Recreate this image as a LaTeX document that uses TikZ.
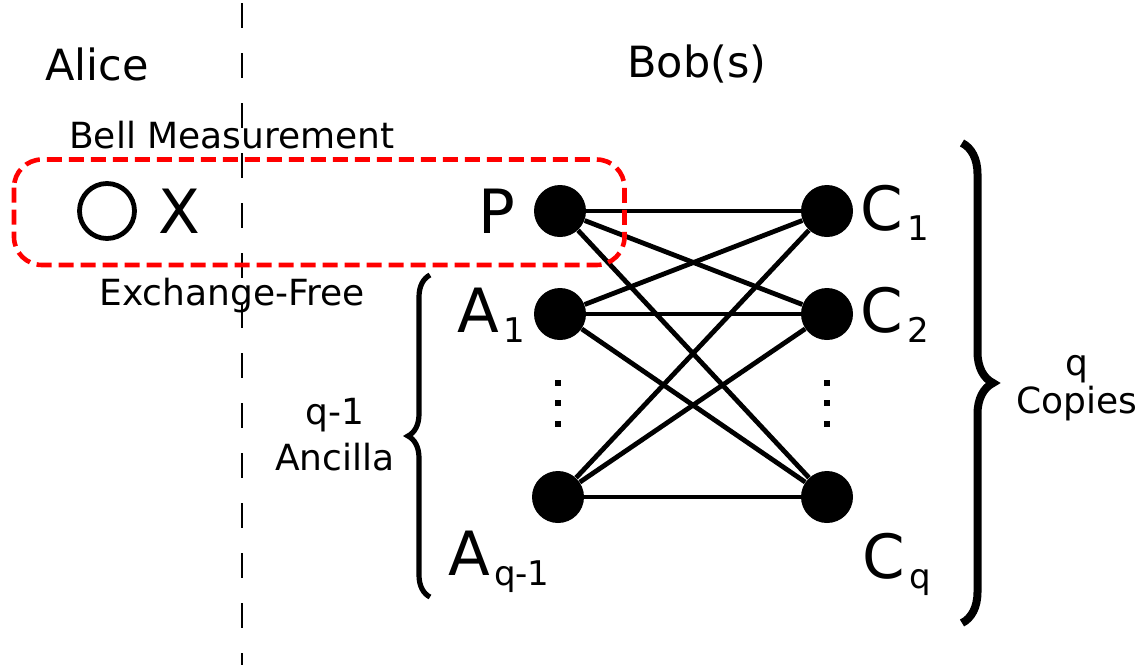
\documentclass[tikz,border=0pt]{standalone}
\usepackage{fontspec}
\setmainfont{DejaVu Sans}
\usetikzlibrary{decorations.pathreplacing}

\newcommand{\qlabel}[2]{#1\hspace{2pt}\raisebox{-5pt}{\fontsize{17}{17}\selectfont #2}}

\begin{document}
\begin{tikzpicture}[x=0.5pt,y=-0.5pt,
	qubit/.style={circle,fill=black,inner sep=0pt,minimum size=26pt},
	hollowqubit/.style={circle,draw=black,line width=2.4pt,inner sep=0pt,minimum size=27.5pt},
	link/.style={line width=2.4pt},
	dotsq/.style={rectangle,fill=black,inner sep=0pt,minimum size=3.3pt},
	biglabel/.style={inner sep=0pt,font=\fontsize{30.5}{30.5}\selectfont},
	partylabel/.style={inner sep=0pt,font=\fontsize{21.5}{21.5}\selectfont},
	notelabel/.style={inner sep=0pt,font=\fontsize{18}{23}\selectfont,align=center},
	bellbox/.style={draw=red,line width=2.3pt,dash pattern=on 7.5pt off 3.5pt,rounded corners=14pt},
	splitline/.style={line width=1pt,dash pattern=on 12.5pt off 12.5pt},
	bigbrace/.style={decorate,decoration={brace,amplitude=#1}}]
			
			\useasboundingbox (0,0) rectangle (1146,665);
			
			\newcommand{\LeftX}{560}
			\newcommand{\RightX}{827}
			
			\coordinate (SplitTop) at (242,3);
			\coordinate (SplitBot) at (242,665);
			\draw[splitline] (SplitTop) -- (SplitBot);% Alice | Bob
			
			\node[partylabel,anchor=base west] (alice) at (45,80) {Alice};
			\node[partylabel,anchor=base west] (bob) at (627,77) {Bob(s)};
			
			% qubits
			\node[hollowqubit] (O) at (107,211) {};
			\node[biglabel,anchor=base west] (Xlab) at (158,233) {X};
			\node[qubit] (P) at (\LeftX,211) {};
			\node[qubit] (A1) at (\LeftX,314) {};
			\node[qubit] (Aq) at (558,497) {};
			\node[qubit] (C1) at (\RightX,211) {};
			\node[qubit] (C2) at (\RightX,314) {};
			\node[qubit] (Cq) at (\RightX,497) {};
			
			\foreach \a in {P,A1,Aq}
				\foreach \c in {C1,C2,Cq}
					\draw[link] (\a) -- (\c);
			
			% vertical dots
			\foreach \y in {383,403,424}{
				\node[dotsq] at (558,\y) {};
				\node[dotsq] at (\RightX,\y) {};
			}
			
			\node[biglabel,anchor=base east] (Plab) at (516,233) {P};
			\node[biglabel,anchor=base west] (A1lab) at (457,332) {\qlabel{A}{1}};
			\node[biglabel,anchor=base west] (Aqlab) at (448,575) {\qlabel{A}{q-1}};
			\node[biglabel,anchor=base west] (C1lab) at (860,230) {\qlabel{C}{1}};
			\node[biglabel,anchor=base west] (C2lab) at (860,332) {\qlabel{C}{2}};
			\node[biglabel,anchor=base west] (Cqlab) at (862,578) {\qlabel{C}{q}};
			
			% Bell measurement
			\draw[bellbox] (14,159.5) rectangle (624.5,265);
			\node[notelabel,anchor=base] (bell) at (232,148) {Bell Measurement};
			\node[notelabel,anchor=base] (exfree) at (232,305) {Exchange-Free};
			
			% braces
			\coordinate (LbTop) at (430,275);
			\coordinate (LbBot) at (430,597);
			\draw[bigbrace=11pt,line width=2.6pt] (LbBot) -- (LbTop);
			\node[notelabel] (ancilla) at (335,435) {q-1\\Ancilla};
			
			\coordinate (RbTop) at (962,143);
			\coordinate (RbBot) at (962,623);
			\draw[bigbrace=15.5pt,line width=4pt] (RbTop) -- (RbBot);
			\node[notelabel,font=\fontsize{18}{19.25}\selectfont] (copies) at (1077,388) {q\\Copies};
		\end{tikzpicture}
\end{document}
